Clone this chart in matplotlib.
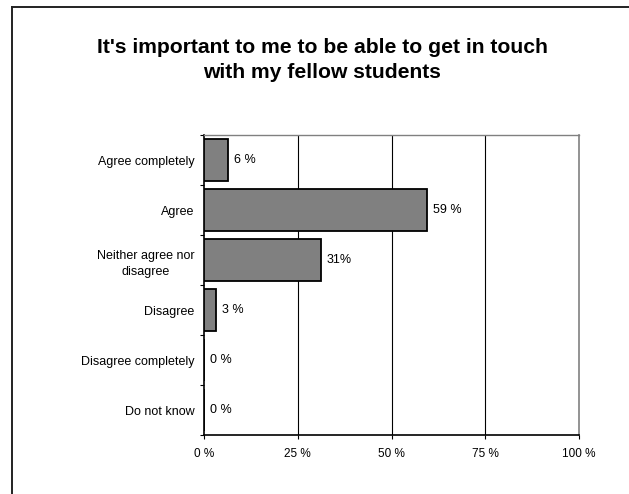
import numpy as np
import matplotlib.pyplot as plt
from matplotlib.lines import Line2D

plt.rcParams['font.family'] = ['Liberation Sans', 'DejaVu Sans']

# data (percent)
categories = ['Agree completely', 'Agree', 'Neither agree nor\ndisagree',
              'Disagree', 'Disagree completely', 'Do not know']
values = [6.5, 59.5, 31.1, 3.2, 0, 0]
value_labels = ['6 %', '59 %', '31%', '3 %', '0 %', '0 %']
xticks = [0, 25, 50, 75, 100]
xtick_labels = ['0 %', '25 %', '50 %', '75 %', '100 %']

fig = plt.figure(figsize=(6.29, 4.94), dpi=100)

# outer chart frame (only top and left edges show)
W, H = 629, 494
fig.add_artist(Line2D([12 / W, 1], [1 - 7 / H, 1 - 7 / H], color='#222222', lw=1.4,
                      transform=fig.transFigure))
fig.add_artist(Line2D([12 / W, 12 / W], [0, 1 - 7 / H], color='#222222', lw=1.4,
                      transform=fig.transFigure))

fig.text(322 / W, 1 - 60 / H, "It's important to me to be able to get in touch\nwith my fellow students",
         ha='center', va='center', fontsize=15.2, fontweight='bold', linespacing=1.4)

ax = fig.add_axes([204 / W, (H - 435) / H, 375 / W, 300 / H])
y = np.arange(len(categories))
ax.barh(y, values, height=0.85, color='#808080', edgecolor='black', linewidth=1.3, zorder=3)
for yi, v, lab in zip(y, values, value_labels):
    ax.text(v + 1.5, yi, lab, va='center', ha='left', fontsize=9)

ax.set_xlim(0, 100)
ax.set_ylim(len(categories) - 0.5, -0.5)
ax.set_xticks(xticks)
ax.set_xticklabels(xtick_labels, fontsize=8.5)
ax.set_yticks(y)
ax.set_yticklabels(categories, fontsize=9, linespacing=1.45)
for t in ax.get_yticklabels():
    t.set_multialignment('center')
ax.set_yticks(np.arange(len(categories) + 1) - 0.5, minor=True)
ax.tick_params(axis='y', which='major', length=0, pad=7)
ax.tick_params(axis='y', which='minor', length=3, direction='out', width=0.8)
ax.tick_params(axis='x', length=3, direction='out', width=0.8, pad=6)

for xv in [25, 50, 75]:
    ax.axvline(xv, color='black', lw=0.8, zorder=1)

ax.spines['left'].set_color('black')
ax.spines['left'].set_linewidth(1.2)
ax.spines['bottom'].set_color('black')
ax.spines['bottom'].set_linewidth(1.2)
ax.spines['right'].set_color('#808080')
ax.spines['right'].set_linewidth(1.2)
ax.spines['top'].set_color('#808080')
ax.spines['top'].set_linewidth(1.0)

fig.savefig('out.png', dpi=100)
